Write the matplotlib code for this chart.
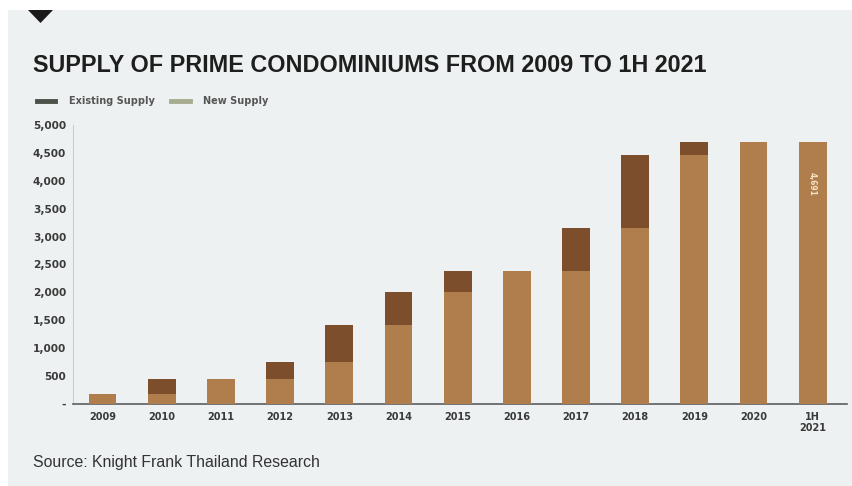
#!/usr/bin/env python3
"""Stacked bars: supply of prime condominiums, 2009 to 1H 2021"""

import numpy as np
import matplotlib
matplotlib.use('Agg')
import matplotlib.pyplot as plt
from matplotlib.patches import Rectangle, Polygon
from matplotlib.lines import Line2D
from matplotlib.ticker import FuncFormatter

years = ['2009', '2010', '2011', '2012', '2013', '2014', '2015', '2016',
         '2017', '2018', '2019', '2020', '1H\n2021']
existing = [180, 180, 450, 450, 750, 1420, 2000, 2380, 2380, 3150, 4460, 4691, 4691]
new = [0, 270, 0, 300, 670, 580, 380, 0, 770, 1310, 231, 0, 0]
yticks = [0, 500, 1000, 1500, 2000, 2500, 3000, 3500, 4000, 4500, 5000]

W, H = 853, 486
C_EXIST = '#b07e4d'
C_NEW = '#7c4e2b'
PANEL = '#eef1f1'

##########################################################
def px(x, y):
    """Pixel position (top-left origin) to figure fraction."""
    return x / W, 1 - y / H

##########################################################
def main():
    fig = plt.figure(figsize=(W / 100, H / 100), dpi=100)
    fig.patch.set_facecolor('white')
    fig.patches.append(Rectangle(px(8, H), (W - 8) / W, (H - 10) / H,
                                 transform=fig.transFigure, facecolor=PANEL,
                                 edgecolor='none', zorder=-2))
    fig.patches.append(Polygon([px(28, 10), px(53, 10), px(40.5, 23)],
                               closed=True, transform=fig.transFigure,
                               facecolor='#1a1a1a', edgecolor='none', zorder=-1))

    x0, y0 = px(73, 404)
    x1, y1 = px(847, 125)
    ax = fig.add_axes([x0, y0, x1 - x0, y1 - y0])
    ax.set_facecolor('none')
    ax.set_zorder(2)

    xs = np.arange(len(years))
    ax.bar(xs, existing, width=0.47, color=C_EXIST, zorder=3)
    ax.bar(xs, new, width=0.47, bottom=existing, color=C_NEW, zorder=3)

    total = np.array(existing) + np.array(new)
    ax.text(xs[-1], total[-1] * 0.84, '{:,}'.format(total[-1]), rotation=270,
            ha='center', va='center', fontsize=5.5, color='#f3e3c4',
            fontweight='bold', zorder=4)

    ax.set_xlim(-0.5, 12.58)
    ax.set_ylim(0, 5000)
    ax.set_xticks(xs)
    ax.set_xticklabels(years, fontsize=7, fontweight='bold', color='#3a3a3a',
                       linespacing=1.1)
    ax.set_yticks(yticks)
    ax.yaxis.set_major_formatter(FuncFormatter(
        lambda v, p: '-' if v == 0 else '{:,.0f}'.format(v)))
    for lab in ax.get_yticklabels():
        lab.set_fontsize(7.6)
        lab.set_fontweight('bold')
        lab.set_color('#3a3a3a')
    ax.tick_params(axis='both', length=0)
    ax.tick_params(axis='y', pad=5)
    ax.tick_params(axis='x', pad=6)

    for s in ['top', 'right']:
        ax.spines[s].set_visible(False)
    ax.spines['left'].set_color('#c9cdcd')
    ax.spines['left'].set_linewidth(0.8)
    ax.spines['bottom'].set_color('#5b5e60')
    ax.spines['bottom'].set_linewidth(1.2)

    fig.text(*px(33, 65), 'SUPPLY OF PRIME CONDOMINIUMS FROM 2009 TO 1H 2021',
             family='Liberation Sans', fontweight='bold', fontsize=16.8,
             color='#1e1e1e', va='center', ha='left')

    handles = [Line2D([], [], color='#4b5048', lw=3.5),
               Line2D([], [], color='#a8ac8e', lw=3.5)]
    fig.legend(handles, ['Existing Supply', 'New Supply'], ncol=2,
               loc='center left', bbox_to_anchor=px(28, 101), frameon=False,
               handlelength=1.9, handletextpad=1.4, columnspacing=1.7,
               prop={'size': 7, 'weight': 'bold'}, labelcolor='#555555')

    fig.text(*px(33, 462), 'Source: Knight Frank Thailand Research',
             family='Liberation Sans', fontsize=11.4, color='#333333',
             va='center', ha='left')

    fig.savefig('out.png', dpi=100, facecolor=fig.get_facecolor())

##########################################################
if __name__ == "__main__":
    main()
